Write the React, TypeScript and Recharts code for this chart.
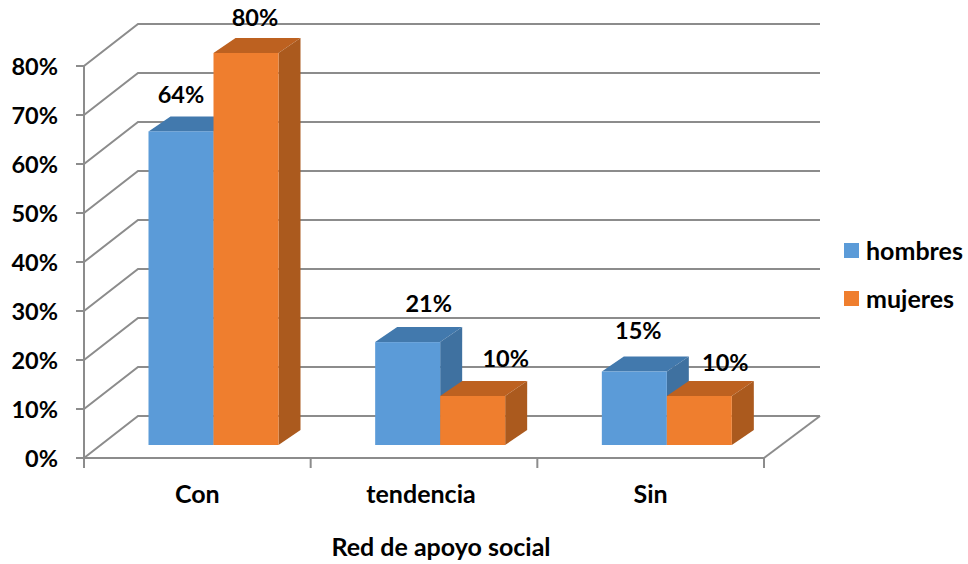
import { BarChart, Bar, XAxis, YAxis, CartesianGrid, Legend, LabelList } from "recharts";

// ---------------------------------------------------------------------------
// Data
// ---------------------------------------------------------------------------

const categories = ["Con", "tendencia", "Sin"];
const hombres = [64, 21, 15];
const mujeres = [80, 10, 10];
const percentTicks = [0, 10, 20, 30, 40, 50, 60, 70, 80];

const rows = categories.map((name, i) => ({ name, hombres: hombres[i], mujeres: mujeres[i] }));

// ---------------------------------------------------------------------------
// Look
// ---------------------------------------------------------------------------

const FONT = "Lato, 'Open Sans', sans-serif";
const GREY = "#8c8c8c";
const WIDTH = 968;
const HEIGHT = 564;
const MARGIN = { top: 66, right: 204, bottom: 0, left: 0 };
const Y_AXIS_WIDTH = 84;
const BAND = (WIDTH - MARGIN.right - Y_AXIS_WIDTH) / categories.length;
const TEXT_SIZE = 25;
const PERCENT_SIZE = 23.5;

// floor depth of the fake 3D box, and of each bar
const WALL_DX = 54;
const WALL_DY = -42;
const BAR_DX = 22;
const BAR_DY = -15;
// bars stand a bit inside the floor
const BAR_SHIFT_X = 16;
const BAR_SHIFT_Y = -13;

const BLUE = { front: "#5b9bd8", top: "#4279ad", side: "#3f71a0" };
const ORANGE = { front: "#ef7e2e", top: "#bd6120", side: "#ab5a1e" };

// hand-placed labels in the original, nudged from the bar centre
const hombresNudge = [{ x: 0, y: -37 }, { x: 21, y: -39 }, { x: 4, y: -42 }];
const mujeresNudge = [{ x: 9, y: -36 }, { x: 33, y: -38 }, { x: 26, y: -34 }];
const categoryNudge = [0, -3, 0];

// ---------------------------------------------------------------------------
// Shapes
// ---------------------------------------------------------------------------

const make3dBar = (colors: typeof BLUE) => (props: any) => {
  const { x, y, width, height } = props;
  const l = x + BAR_SHIFT_X;
  const r = l + width;
  const t = y + BAR_SHIFT_Y;
  const b = t + height;
  return (
    <g>
      <polygon
        points={`${l},${t} ${l + BAR_DX},${t + BAR_DY} ${r + BAR_DX},${t + BAR_DY} ${r},${t}`}
        fill={colors.top}
      />
      <polygon
        points={`${r},${t} ${r + BAR_DX},${t + BAR_DY} ${r + BAR_DX},${b + BAR_DY} ${r},${b}`}
        fill={colors.side}
      />
      <rect x={l} y={t} width={width} height={height} fill={colors.front} />
    </g>
  );
};

const makeValueLabel = (nudges: { x: number; y: number }[]) => (props: any) => {
  const { x, y, width, index, value } = props;
  const nudge = nudges[index];
  return (
    <text
      x={x + BAR_SHIFT_X + width / 2 + nudge.x}
      y={y + BAR_SHIFT_Y + nudge.y}
      textAnchor="middle"
      dominantBaseline="central"
      fontFamily={FONT}
      fontWeight={700}
      fontSize={PERCENT_SIZE}
      fill="#000"
    >
      {value}%
    </text>
  );
};

// gridline goes up the left wall and along the back wall
const wallLine = (props: any) => {
  const { x1, x2, y1 } = props;
  const backY = y1 + WALL_DY;
  return (
    <g key={`wall-${y1}`}>
      <polyline
        points={`${x1},${y1} ${x1 + WALL_DX},${backY} ${x2 + WALL_DX + 2},${backY}`}
        fill="none"
        stroke={GREY}
        strokeWidth={2}
      />
      {y1 >= HEIGHT - 107 ? (
        <line x1={x2} y1={y1} x2={x2 + WALL_DX + 2} y2={backY} stroke={GREY} strokeWidth={2} />
      ) : null}
    </g>
  );
};

const CategoryTick = (props: any) => {
  const { x, y, payload, index } = props;
  const left = x - BAND / 2;
  const right = x + BAND / 2;
  return (
    <g>
      <line x1={left} y1={y - 8} x2={left} y2={y + 2} stroke={GREY} strokeWidth={2} />
      {index === categories.length - 1 ? (
        <line x1={right} y1={y - 8} x2={right} y2={y + 2} stroke={GREY} strokeWidth={2} />
      ) : null}
      <text
        x={x + categoryNudge[index]}
        y={y + 27}
        textAnchor="middle"
        dominantBaseline="central"
        fontFamily={FONT}
        fontWeight={700}
        fontSize={TEXT_SIZE}
        fill="#000"
      >
        {payload.value}
      </text>
    </g>
  );
};

const LegendBox = ({ payload }: any) => (
  <div>
    {(payload ?? []).map((item: any) => (
      <div
        key={item.value}
        style={{ display: "flex", alignItems: "center", height: 48, fontFamily: FONT, fontWeight: 700, fontSize: TEXT_SIZE }}
      >
        <span style={{ width: 15, height: 15, background: item.color, marginRight: 7 }} />
        {item.value}
      </div>
    ))}
  </div>
);

// ---------------------------------------------------------------------------
// Chart
// ---------------------------------------------------------------------------

export default function App() {
  return (
    <div style={{ position: "absolute", left: 0, top: 0, width: WIDTH, height: HEIGHT, background: "#fff" }}>
      <BarChart width={WIDTH} height={HEIGHT} data={rows} margin={MARGIN} barCategoryGap={48.5} barGap={0}>
        <CartesianGrid vertical={false} horizontal={wallLine} syncWithTicks />
        <XAxis
          dataKey="name"
          interval={0}
          height={106}
          stroke={GREY}
          strokeWidth={2}
          tickLine={false}
          tick={CategoryTick}
          label={{
            value: "Red de apoyo social",
            position: "insideBottom",
            offset: 8,
            dx: 17,
            fontFamily: FONT,
            fontWeight: 700,
            fontSize: TEXT_SIZE,
            fill: "#000",
          }}
        />
        <YAxis
          domain={[0, 80]}
          ticks={percentTicks}
          interval={0}
          width={Y_AXIS_WIDTH}
          stroke={GREY}
          strokeWidth={2}
          tickSize={8}
          tickMargin={18}
          tickFormatter={(v: number) => `${v}%`}
          tick={{ fontFamily: FONT, fontWeight: 700, fontSize: PERCENT_SIZE, fill: "#000", dy: 1 }}
        />
        <Legend
          layout="vertical"
          align="center"
          verticalAlign="middle"
          content={LegendBox}
          wrapperStyle={{ position: "absolute", left: 844, top: 226, width: 124, margin: 0 }}
        />
        <Bar dataKey="hombres" name="hombres" fill={BLUE.front} shape={make3dBar(BLUE)} isAnimationActive={false}>
          <LabelList dataKey="hombres" content={makeValueLabel(hombresNudge)} />
        </Bar>
        <Bar dataKey="mujeres" name="mujeres" fill={ORANGE.front} shape={make3dBar(ORANGE)} isAnimationActive={false}>
          <LabelList dataKey="mujeres" content={makeValueLabel(mujeresNudge)} />
        </Bar>
      </BarChart>
    </div>
  );
}
